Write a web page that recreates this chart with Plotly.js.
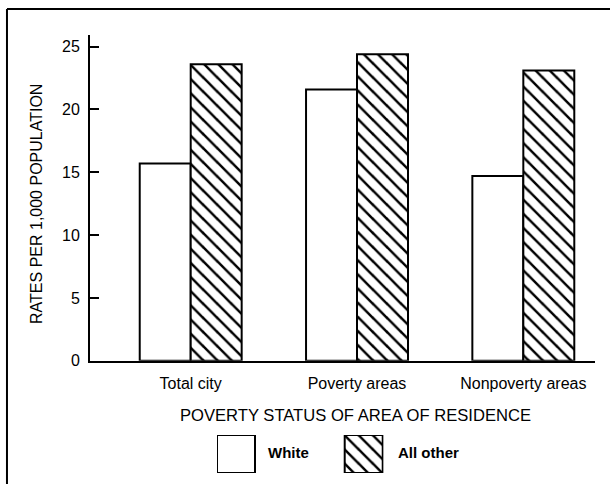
<!DOCTYPE html>
<html>
<head>
<meta charset="utf-8">
<script src="https://cdn.plot.ly/plotly-3.0.1.min.js"></script>
<style>html,body{margin:0;padding:0;background:#fff;}#chart{width:610px;height:484px;}</style>
</head>
<body>
<div id="chart"></div>
<script>
// ---- data ----
const categories = ['Total city', 'Poverty areas', 'Nonpoverty areas'];
const whiteRates = [15.7, 21.6, 14.7];
const allOtherRates = [23.6, 24.4, 23.1];
const seriesNames = ['White', 'All other'];
const yTickVals = [0, 5, 10, 15, 20, 25];
const legendSwatch = [1, 1];

const FONT = 'Liberation Sans, Arial, Helvetica, sans-serif';
const hatch = {shape: '\\', size: 10, solidity: 0.25, fgcolor: '#000', bgcolor: '#fff', fillmode: 'replace'};

const traces = [
  {type: 'bar', name: seriesNames[0], x: categories, y: whiteRates,
   marker: {color: '#fff', line: {color: '#000', width: 2}}, showlegend: false, hoverinfo: 'x+y'},
  {type: 'bar', name: seriesNames[1], x: categories, y: allOtherRates,
   marker: {color: '#fff', pattern: hatch, line: {color: '#000', width: 2}}, showlegend: false, hoverinfo: 'x+y'},
  // legend swatches
  {type: 'bar', x: [0], y: [legendSwatch[0]], width: 0.2976, xaxis: 'x2', yaxis: 'y2',
   marker: {color: '#fff', line: {color: '#000', width: 2}}, showlegend: false, hoverinfo: 'skip'},
  {type: 'bar', x: [1], y: [legendSwatch[1]], width: 0.2976, xaxis: 'x2', yaxis: 'y2',
   marker: {color: '#fff', pattern: hatch, line: {color: '#000', width: 2}}, showlegend: false, hoverinfo: 'skip'}
];

const layout = {
  width: 610, height: 484,
  margin: {l: 90, r: 15, t: 35, b: 5, pad: 0},
  paper_bgcolor: '#fff', plot_bgcolor: '#fff',
  font: {family: FONT, color: '#000', size: 15},
  barmode: 'group', bargap: 0.387, bargroupgap: 0,
  xaxis: {
    domain: [0, 1], range: [-0.6055, 2.431], type: 'category',
    showline: true, linecolor: '#000', linewidth: 2, ticks: '', showgrid: false, zeroline: false,
    tickfont: {family: FONT, size: 16, color: '#000'}, ticklabelstandoff: 7, fixedrange: true
  },
  yaxis: {
    domain: [0.2664, 1], range: [0, 25.93], tickvals: yTickVals, ticktext: yTickVals.map(String),
    showline: true, linecolor: '#000', linewidth: 2, ticks: 'inside', ticklen: 9, tickwidth: 2, tickcolor: '#000',
    showgrid: false, zeroline: false, tickfont: {family: FONT, size: 16, color: '#000'}, ticklabelstandoff: 5
  },
  xaxis2: {domain: [0.2515, 0.5812], range: [-0.1488, 1.155], anchor: 'y2', visible: false, fixedrange: true},
  yaxis2: {domain: [0.0135, 0.0991], range: [0, 1], anchor: 'x2', visible: false, fixedrange: true},
  annotations: [
    {text: 'RATES PER 1,000 POPULATION', textangle: -90, xref: 'paper', yref: 'paper',
     x: -0.105, y: 0.6194, xanchor: 'center', yanchor: 'middle', showarrow: false, font: {size: 16}},
    {text: 'POVERTY STATUS OF AREA OF RESIDENCE', xref: 'paper', yref: 'paper',
     x: 0.5267, y: 0.144, xanchor: 'center', yanchor: 'middle', showarrow: false, font: {size: 16.6}},
    {text: seriesNames[0], xref: 'paper', yref: 'paper', x: 0.3485, y: 0.0586,
     xanchor: 'left', yanchor: 'middle', showarrow: false, font: {size: 15, weight: 'bold'}},
    {text: seriesNames[1], xref: 'paper', yref: 'paper', x: 0.606, y: 0.0586,
     xanchor: 'left', yanchor: 'middle', showarrow: false, font: {size: 15, weight: 'bold'}}
  ],
  shapes: [
    {type: 'line', xref: 'paper', yref: 'paper', x0: -0.1644, x1: -0.1644, y0: 1.0586, y1: -0.05, line: {color: '#000', width: 2}},
    {type: 'line', xref: 'paper', yref: 'paper', x0: -0.1644, x1: 1.05, y0: 1.0586, y1: 1.0586, line: {color: '#000', width: 2}}
  ]
};

Plotly.newPlot('chart', traces, layout, {displayModeBar: false, staticPlot: true});
</script>
</body>
</html>
